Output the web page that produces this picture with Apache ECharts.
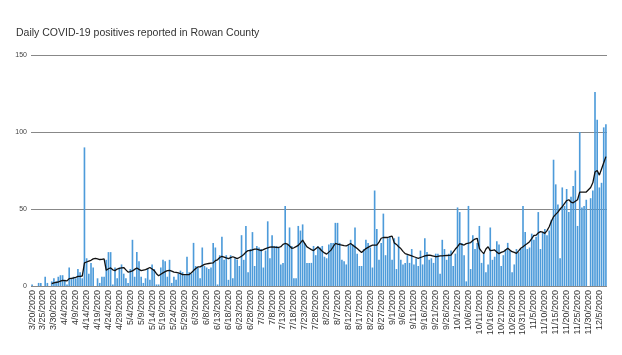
<!DOCTYPE html>
<html><head><meta charset="utf-8">
<script src="https://cdn.jsdelivr.net/npm/echarts@6/dist/echarts.min.js"></script>
<style>html,body{margin:0;padding:0;background:#fff}#c{width:622px;height:355px}</style>
</head><body><div id="c"></div>
<script>
const titleText = "Daily COVID-19 positives reported in Rowan County";
const startDate = [2020, 3, 20];
const dayCount = 264;
const yTicks = [0, 50, 100, 150];
const positives = [
1,0,0,2,2,0,6,2,0,3,
5,3,6,7,7,4,1,12,5,6,
5,11,9,5,90,18,8,15,12,0,
5,2,6,6,17,22,22,1,12,5,
12,14,8,5,2,11,30,6,22,16,
6,2,5,11,4,14,11,1,1,12,
17,16,6,17,2,6,4,8,10,9,
7,19,9,8,28,13,12,5,25,13,
12,11,12,
28,25,1,20,32,17,20,4,20,5,
18,17,13,33,17,39,9,24,35,13,
26,25,24,12,23,42,18,33,26,26,
25,14,15,52,
27,38,26,5,5,39,36,40,28,15,
15,15,26,20,26,25,26,19,18,27,
28,28,41,41,28,17,16,14,27,30,
27,38,21,13,13,24,30,28,25,12,62,
37,17,28,47,20,31,32,17,31,11,32,17,
14,15,20,15,24,14,18,13,23,14,
31,22,17,18,15,21,21,8,30,24,
17,21,23,13,21,51,48,28,20,3,
52,11,33,24,28,39,15,21,9,14,
38,17,19,29,27,13,20,24,28,23,
9,14,24,22,24,52,35,24,25,34,
30,32,48,24,35,37,33,36,43,82,
66,53,18,64,52,63,48,58,65,75,39,100,
51,52,56,0,57,62,126,108,64,67,103,105
];
const average = [
null,null,null,null,null,null,null,null,null,
1.5,2,2.3,2.6,3.2,3.7,3.5,3.3,4.8,5,5.2,
5.6,6.2,6.3,6.5,15,15.6,16.2,16.7,17.6,18,
17.6,17.2,17.3,17.6,10.2,11.2,11.7,10.5,10,11,
11.4,11.8,12,10.5,9,9.3,9.8,10.8,11.7,10.8,
10,10.3,10.6,11.3,12,11,10,8,6.7,7.6,
8.5,9.3,10,10.2,9.6,9,8.8,8.5,8,7.4,
7.4,7.4,7.4,8.6,10,11.3,12.4,12.4,13.2,14,
14.4,14.6,14.8,15,16.5,17,18.5,19.3,18.8,18.2,
17.8,18.4,19,18.4,17.8,18.5,19.3,20.5,22,23,
23,23.5,24,24,23.5,23,23.6,24.3,24.8,25.2,
25.4,25.3,25.1,25,25.5,27,27.6,27.2,26,24.5,
24.8,25.6,26.4,28,29.8,27.5,25.4,24.5,23.6,23,
24.2,25.4,24,22.6,21.5,20.7,22,23.3,25.5,27.6,
27.2,26.8,26.5,26.2,26,26.8,27.6,26.5,25.4,24.3,
23,21.7,23,24.3,25.1,25.9,26.5,26.5,26.5,28.5,
31,31.5,31.5,31.5,32,32.4,28,27,25.5,24.3,
22.5,21,20.5,20,19.5,19,18.5,18,18.5,19,
19.5,19.8,20,19.8,19.4,19,19.2,19.5,19.6,19.7,
19.8,19.9,20,22,24,25.5,27.5,27,26.6,27.5,
27.8,28.2,29.5,30.5,31,24.5,22.5,21,24,25.5,
23,23.2,23.4,22,21,21.8,22.3,23.3,24.5,23.3,
22.3,21.8,21.2,22.8,24.5,25.5,26.6,27.6,28.8,30.8,
32.8,33,34.5,35.3,35,34.2,36,38.5,42,45,
46.5,48,50,51.5,53.5,55.5,56,54.5,54,55,
56,61,61,61,61,62.5,64,67,74,75,
72,76,80,84
];
const categories = [];
{
  const d = new Date(startDate[0], startDate[1]-1, startDate[2]);
  for (let i = 0; i < dayCount; i++) {
    categories.push((d.getMonth()+1) + "/" + d.getDate() + "/" + d.getFullYear());
    d.setDate(d.getDate()+1);
  }
}
const chart = echarts.init(document.getElementById('c'), null, {renderer:'canvas'});
chart.setOption({
  animation: false,
  backgroundColor: '#ffffff',
  title: {
    text: titleText, left: 11, top: 23,
    textStyle: {fontFamily: 'Liberation Sans, Arial, sans-serif', fontSize: 10.5, fontWeight: 'normal', color: '#333333'}
  },
  grid: {left: 31, right: 15, top: 55, bottom: 69, containLabel: false},
  xAxis: {
    type: 'category', data: categories, boundaryGap: true,
    axisLine: {show: false}, axisTick: {show: false},
    axisLabel: {interval: 4, rotate: 90, margin: 4, fontSize: 9, color: '#333',
      fontFamily: 'Liberation Sans, Arial, sans-serif'}
  },
  yAxis: {
    type: 'value', min: yTicks[0], max: yTicks[yTicks.length-1], interval: 50,
    axisLine: {show: false}, axisTick: {show: false},
    axisLabel: {fontSize: 7, color: '#444', margin: 4, fontFamily: 'Liberation Sans, Arial, sans-serif'},
    splitLine: {lineStyle: {color: '#888888', width: 1}}
  },
  series: [
    {type: 'bar', data: positives, barCategoryGap: '25%',
     itemStyle: {color: '#4d9bda'}},
    {type: 'line', data: average, symbol: 'none', smooth: false, connectNulls: false,
     lineStyle: {color: '#111111', width: 1.3}, z: 5}
  ]
});
</script></body></html>
